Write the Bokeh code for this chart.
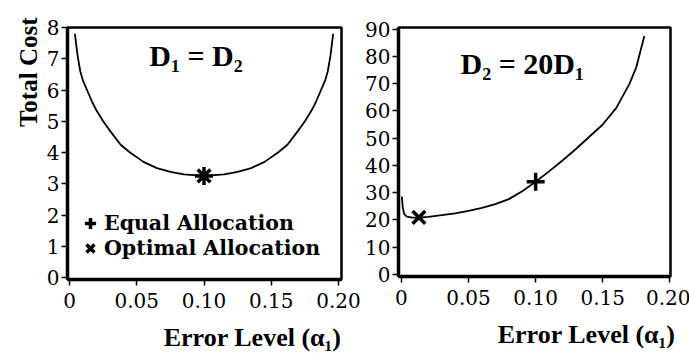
from bokeh.plotting import figure
from bokeh.layouts import row
from bokeh.models import Range1d, FixedTicker, Label, Title, Legend, LegendItem
from bokeh.embed import file_html
from bokeh.resources import INLINE

SERIF = "Liberation Serif"
BOX_SERIF = "DejaVu Serif"

# ---------------- data ----------------
x_ticks = [0, 0.05, 0.10, 0.15, 0.20]
x_tick_labels = ["0", "0.05", "0.10", "0.15", "0.20"]
left_y_ticks = [0, 1, 2, 3, 4, 5, 6, 7, 8]
right_y_ticks = [0, 10, 20, 30, 40, 50, 60, 70, 80, 90]

# Panel 1: D1 = D2
left_alpha = [0.004, 0.006, 0.008, 0.010, 0.013, 0.017, 0.020, 0.025, 0.030, 0.038,
              0.045, 0.055, 0.065, 0.075, 0.085, 0.100, 0.115, 0.125, 0.135, 0.145,
              0.155, 0.162, 0.170, 0.175, 0.180, 0.183, 0.187, 0.190, 0.192, 0.194, 0.196]
left_cost = [7.8, 7.1, 6.6, 6.3, 6.0, 5.6, 5.35, 5.0, 4.7, 4.25,
             4.0, 3.7, 3.5, 3.38, 3.3, 3.25, 3.3, 3.38, 3.5, 3.7,
             4.0, 4.25, 4.7, 5.0, 5.35, 5.6, 6.0, 6.3, 6.6, 7.1, 7.8]
left_equal_alpha = [0.10]
left_equal_cost = [3.25]
left_opt_alpha = [0.10]
left_opt_cost = [3.25]

# Panel 2: D2 = 20 D1
right_alpha = [0.0003, 0.001, 0.002, 0.004, 0.008, 0.013, 0.020, 0.030, 0.040, 0.050,
               0.060, 0.070, 0.080, 0.090, 0.100, 0.110, 0.120, 0.130, 0.140, 0.150,
               0.160, 0.170, 0.175, 0.181]
right_cost = [28.5, 24.5, 22.2, 21.2, 20.8, 20.8, 21.1, 21.7, 22.4, 23.3,
              24.4, 25.8, 27.6, 30.5, 34.0, 37.8, 41.8, 46.0, 50.5, 55.0,
              61.0, 70.0, 76.0, 87.5]
right_equal_alpha = [0.10]
right_equal_cost = [34.0]
right_opt_alpha = [0.013]
right_opt_cost = [20.9]

x_overrides = dict(zip(x_ticks, x_tick_labels))


def style(p, y_ticks):
    p.grid.visible = False
    p.outline_line_color = "black"
    p.outline_line_width = 2.5
    p.background_fill_color = "white"
    p.border_fill_color = "white"
    p.xaxis.ticker = FixedTicker(ticks=x_ticks)
    p.xaxis.major_label_overrides = x_overrides
    p.yaxis.ticker = FixedTicker(ticks=y_ticks)
    p.xaxis.axis_line_width = 3.5
    p.yaxis.axis_line_width = 3.5
    p.axis.axis_line_color = "black"
    p.axis.major_tick_line_width = 1.5
    p.axis.major_tick_line_color = "black"
    p.axis.major_tick_in = 0
    p.axis.major_tick_out = 6
    p.axis.minor_tick_line_color = None
    p.axis.major_label_text_font = BOX_SERIF
    p.axis.major_label_text_font_style = "normal"
    p.axis.major_label_text_font_size = "20px"
    p.axis.major_label_text_color = "black"
    p.xaxis.major_label_standoff = 7
    p.yaxis.major_label_standoff = 2


def axis_title(text, align, offset, standoff, size="26px"):
    return Title(text=text, align=align, offset=offset, text_font=SERIF,
                 text_font_style="bold", text_font_size=size, text_color="black",
                 standoff=standoff)


def legend_box(label, renderer, y_off):
    return Legend(items=[LegendItem(label=label, renderers=[renderer])],
                  location=(9, y_off), margin=0, padding=0, spacing=0,
                  glyph_width=28, glyph_height=30, label_standoff=0,
                  label_text_font=BOX_SERIF, label_text_font_style="bold",
                  label_text_font_size="20.5px", label_text_color="black",
                  border_line_color=None, background_fill_alpha=0)


# ---------------- left panel ----------------
p1 = figure(frame_width=274, frame_height=252,
            x_range=Range1d(-0.0015, 0.2022), y_range=Range1d(-0.064, 8.0),
            min_border_left=67, min_border_right=21, min_border_top=25, min_border_bottom=75,
            output_backend="svg", toolbar_location=None)
style(p1, left_y_ticks)
p1.line(left_alpha, left_cost, line_color="black", line_width=1.8)
r_eq = p1.scatter(left_equal_alpha, left_equal_cost, marker="cross", size=18,
                  line_color="black", line_width=3.5)
r_opt = p1.scatter(left_opt_alpha, left_opt_cost, marker="x", size=18,
                   line_color="black", line_width=3.5)
p1.add_layout(Label(x=0.094, y=7.1, text="D₁ = D₂", text_align="center",
                    text_baseline="middle", text_font=SERIF, text_font_style="bold",
                    text_font_size="30px", text_color="black"))
p1.add_layout(legend_box("Equal Allocation", r_eq, 41))
p1.add_layout(legend_box("Optimal Allocation", r_opt, 16))
p1.add_layout(axis_title("Error Level (α₁)", "right", 0, 20), "below")
p1.add_layout(axis_title("Total Cost", "right", -10, 4, "25px"), "left")

# ---------------- right panel ----------------
p2 = figure(frame_width=272, frame_height=249,
            x_range=Range1d(-0.0022, 0.2005), y_range=Range1d(-0.8, 90.6),
            min_border_left=34, min_border_right=20, min_border_top=27, min_border_bottom=76,
            output_backend="svg", toolbar_location=None)
style(p2, right_y_ticks)
p2.line(right_alpha, right_cost, line_color="black", line_width=1.8)
p2.scatter(right_equal_alpha, right_equal_cost, marker="cross", size=18,
           line_color="black", line_width=3.5)
p2.scatter(right_opt_alpha, right_opt_cost, marker="x", size=18,
           line_color="black", line_width=3.5)
p2.add_layout(Label(x=0.09, y=77.3, text="D₂ = 20D₁", text_align="center",
                    text_baseline="middle", text_font=SERIF, text_font_style="bold",
                    text_font_size="30px", text_color="black"))
p2.add_layout(axis_title("Error Level (α₁)", "right", -5, 20), "below")

layout = row(p1, p2)
open("out.html", "w").write(file_html(layout, INLINE))
